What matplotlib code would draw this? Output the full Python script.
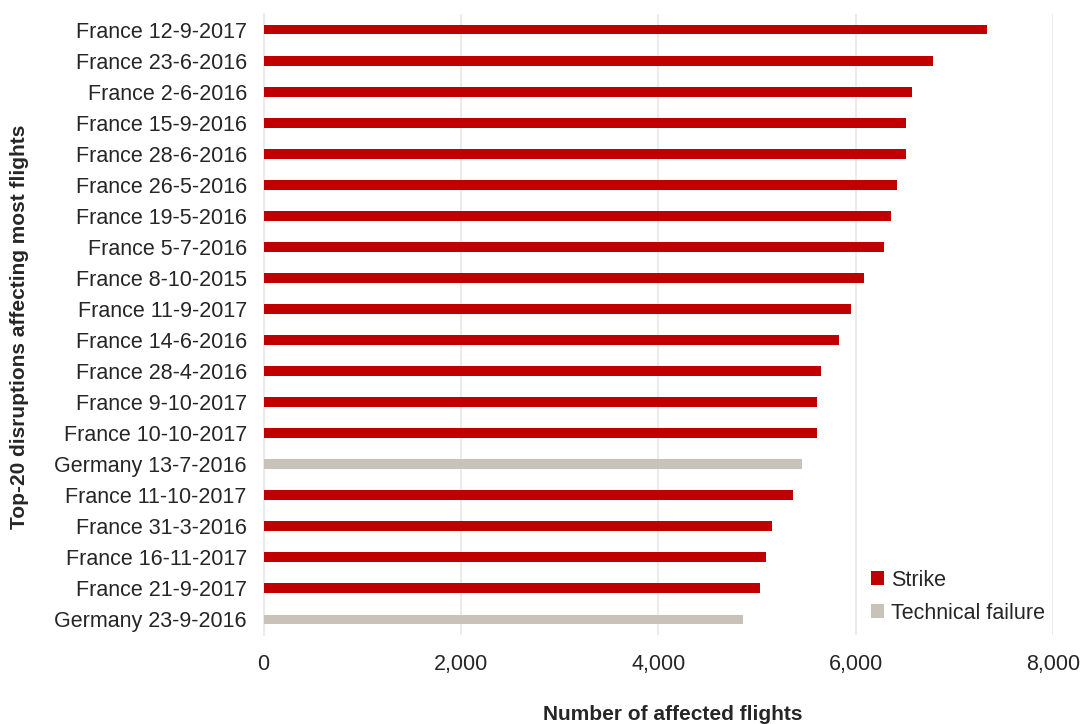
#!/usr/bin/env python3

import matplotlib
matplotlib.use("Agg")
import matplotlib.pyplot as plt
from matplotlib.patches import Patch
from matplotlib.ticker import FuncFormatter

# ─── Data (top to bottom) ─────────────────────────────────────────────────────
LABELS = [
    "France 12-9-2017", "France 23-6-2016", "France 2-6-2016", "France 15-9-2016",
    "France 28-6-2016", "France 26-5-2016", "France 19-5-2016", "France 5-7-2016",
    "France 8-10-2015", "France 11-9-2017", "France 14-6-2016", "France 28-4-2016",
    "France 9-10-2017", "France 10-10-2017", "Germany 13-7-2016", "France 11-10-2017",
    "France 31-3-2016", "France 16-11-2017", "France 21-9-2017", "Germany 23-9-2016",
]
FLIGHTS = [
    7328, 6784, 6568, 6513, 6507, 6422, 6355, 6290, 6088, 5953,
    5834, 5649, 5605, 5605, 5459, 5362, 5152, 5091, 5028, 4859,
]
CAUSES = [
    "Strike", "Strike", "Strike", "Strike", "Strike", "Strike", "Strike",
    "Strike", "Strike", "Strike", "Strike", "Strike", "Strike", "Strike",
    "Technical failure", "Strike", "Strike", "Strike", "Strike", "Technical failure",
]
COLORS = {"Strike": "#C00000", "Technical failure": "#C9C2B8"}

TEXT = "#262626"
GRID = "#EBEBEB"
FS = 15.5

plt.rcParams["font.family"] = ["Liberation Sans", "DejaVu Sans"]

fig = plt.figure(figsize=(10.81, 7.24), dpi=100)
ax = fig.add_axes([263.5 / 1081, 1 - 635 / 724, (1053 - 263.5) / 1081, (635 - 14) / 724])

n = len(LABELS)
ypos = list(range(n - 1, -1, -1))
ax.barh(ypos, FLIGHTS, height=0.32, color=[COLORS[c] for c in CAUSES], zorder=3)

ax.set_xlim(0, 8000)
ax.set_ylim(-0.5, n - 0.5)
ax.set_xticks([0, 2000, 4000, 6000, 8000])
ax.xaxis.set_major_formatter(FuncFormatter(lambda v, p: f"{int(v):,}"))
ax.set_yticks(ypos)
ax.set_yticklabels(LABELS)
ax.tick_params(axis="both", length=0, labelsize=FS, colors=TEXT)
ax.tick_params(axis="x", pad=14)
ax.tick_params(axis="y", pad=12)

ax.grid(axis="x", color=GRID, linewidth=1.5, zorder=0)
for s in ["top", "right", "bottom"]:
    ax.spines[s].set_visible(False)
ax.spines["left"].set_color(GRID)
ax.spines["left"].set_linewidth(1.5)

# axis titles
fig.text(673 / 1081, 1 - 714 / 724, "Number of affected flights", fontsize=15,
         fontweight="bold", color=TEXT, ha="center", va="center")
fig.text(20 / 1081, 1 - 327 / 724, "Top-20 disruptions affecting most flights",
         fontsize=15, fontweight="bold", color=TEXT, ha="center", va="center",
         rotation=90)

handles = [Patch(facecolor=COLORS[k], label=k) for k in ["Strike", "Technical failure"]]
ax.legend(handles=handles, loc="lower right", bbox_to_anchor=(1.009, -0.006),
          frameon=False, fontsize=FS, handlelength=0.6, handleheight=0.6,
          handletextpad=0.35, labelspacing=0.55, borderaxespad=0.3,
          labelcolor=TEXT)

fig.savefig("out.png", dpi=100)
